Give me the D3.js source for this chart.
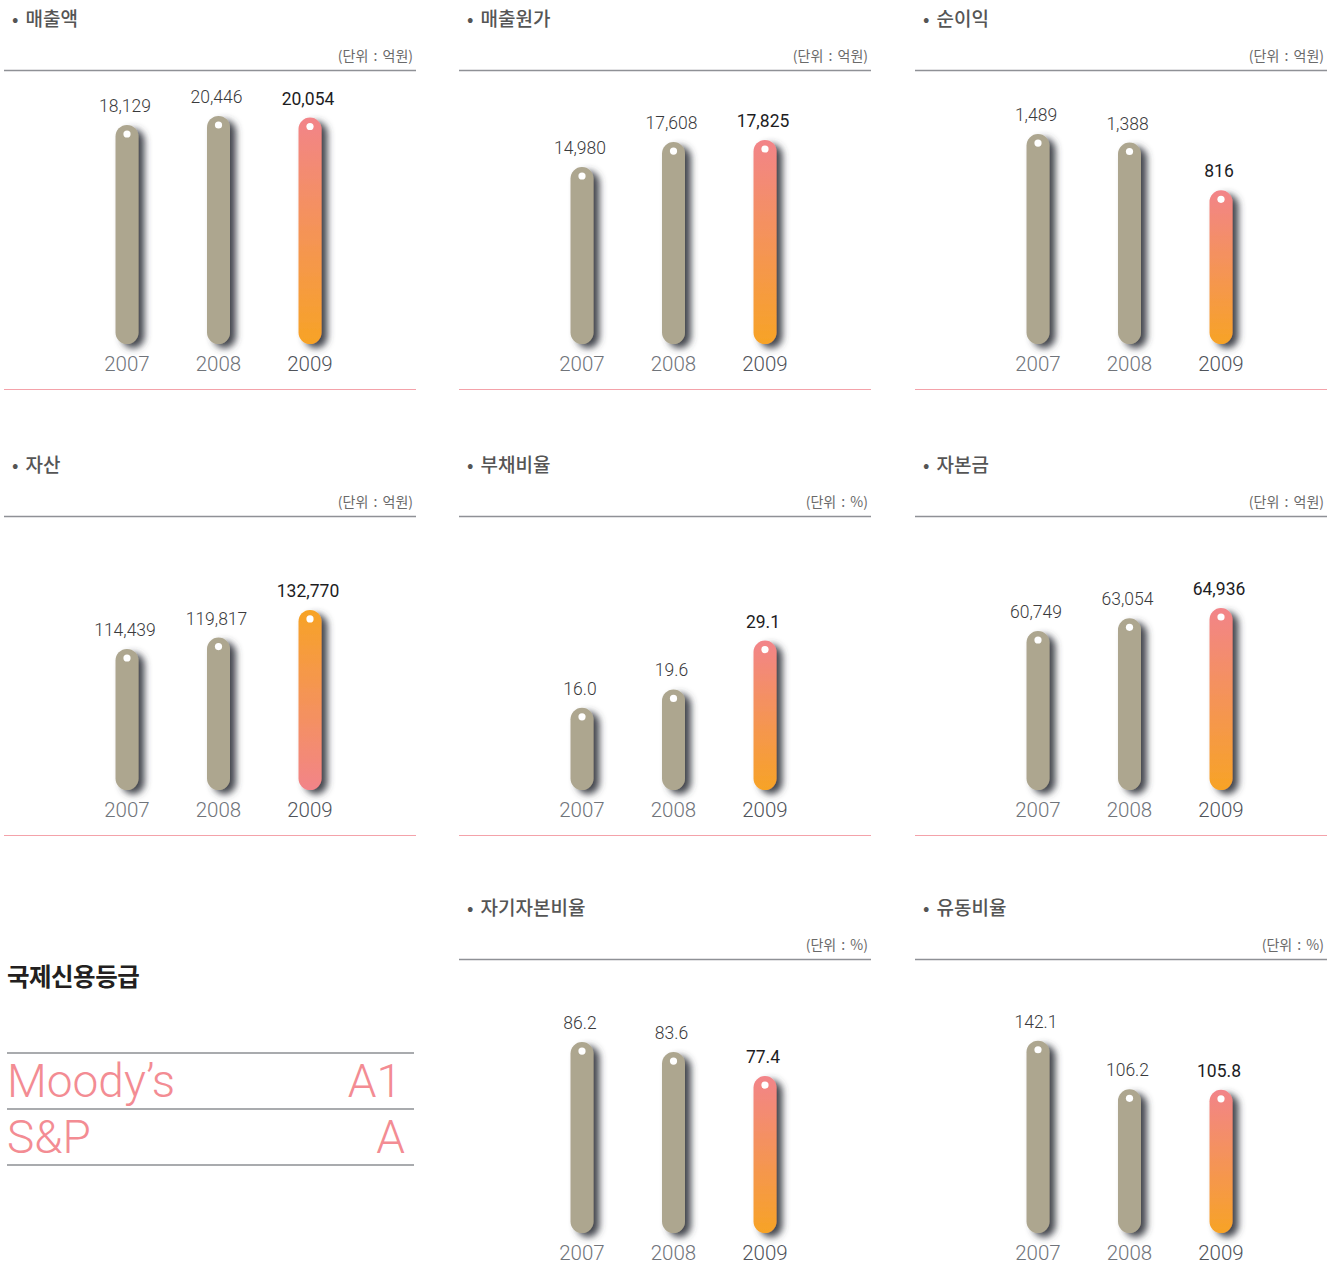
<!DOCTYPE html>
<html><head><meta charset="utf-8">
<script src="https://cdn.jsdelivr.net/npm/d3@7"></script>
<style>
html,body{margin:0;padding:0;background:#fff;}
svg{display:block;}
</style></head>
<body>
<svg id="chart" width="1339" height="1275"></svg>
<script>
// ---- data ----
const years = ["2007", "2008", "2009"];
const titles = ["매출액", "매출원가", "순이익", "자산", "부채비율", "자본금", "자기자본비율", "유동비율"];
const units = ["억원", "억원", "억원", "억원", "%", "억원", "%", "%"];
const salesValues = [18129, 20446, 20054];
const costValues = [14980, 17608, 17825];
const netIncomeValues = [1489, 1388, 816];
const assetValues = [114439, 119817, 132770];
const debtRatioValues = [16.0, 19.6, 29.1];
const capitalValues = [60749, 63054, 64936];
const equityRatioValues = [86.2, 83.6, 77.4];
const currentRatioValues = [142.1, 106.2, 105.8];
const seriesValues = [salesValues, costValues, netIncomeValues, assetValues,
  debtRatioValues, capitalValues, equityRatioValues, currentRatioValues];
const valueFormats = [",", ",", ",", ",", ".1f", ",", ".1f", ".1f"];
// value domain that maps onto the full bar-height range of each panel
const scaleDomains = [[-38260, 20960], [-3650, 20560], [-1021, 1729], [48170, 156250],
  [0, 44.8], [31800, 73680], [36.8, 96.3], [0, 170]];
const ratingAgencies = ["Moody’s", "S&P"];
const ratingGrades = ["A1", "A"];
const ratingTitle = "국제신용등급";

// ---- layout / style ----
const colX = [4, 459, 915];
const rowY = [0, 446, 889];
const panelW = 412;
const barBottom = 344, barMaxH = 230, barW = 23;
const flipGradient = [false, false, false, true, false, false, false, false];
const svg = d3.select("#chart");
const defs = svg.append("defs");

const sh = defs.append("filter").attr("id", "shadow")
  .attr("x", "-100%").attr("y", "-20%").attr("width", "300%").attr("height", "140%");
sh.append("feDropShadow").attr("dx", 6).attr("dy", 4).attr("stdDeviation", 3.8)
  .attr("flood-color", "#3a3d45").attr("flood-opacity", 0.95);

function grad(id, top, bottom) {
  const g = defs.append("linearGradient").attr("id", id)
    .attr("x1", 0).attr("y1", 0).attr("x2", 0).attr("y2", 1);
  g.append("stop").attr("offset", "0%").attr("stop-color", top);
  g.append("stop").attr("offset", "100%").attr("stop-color", bottom);
}
grad("gPink", "#f28489", "#f7a326");
grad("gOrange", "#f7a326", "#f28489");

const x = d3.scalePoint().domain(years).range([123, 306]);

titles.forEach((t, i) => {
  const pi = i < 6 ? i : i + 1; // panel slot (slot 6 = rating table)
  const cc = pi % 3, rr = Math.floor(pi / 3);
  const g = svg.append("g").attr("transform", `translate(${colX[cc]},${rowY[rr]})`);
  const y = d3.scaleLinear().domain(scaleDomains[i]).range([barBottom, barBottom - barMaxH]);
  const fmt = d3.format(valueFormats[i]);
  const vals = seriesValues[i];

  g.append("text").attr("x", 8).attr("y", 26).text("•")
    .attr("font-family", "Noto Sans CJK KR").attr("font-size", 19).attr("fill", "#555");
  g.append("text").attr("x", 21.5).attr("y", 26).text(t)
    .attr("font-family", "Noto Sans CJK KR").attr("font-weight", 500)
    .attr("font-size", 19).attr("fill", "#555");
  g.append("text").attr("x", panelW - 3).attr("y", 61).attr("text-anchor", "end")
    .text(`(단위 : ${units[i]})`)
    .attr("font-family", "Noto Sans CJK KR").attr("font-size", 14).attr("fill", "#6a6a6a")
    .attr("word-spacing", 2);
  g.append("line").attr("x1", 0).attr("x2", panelW).attr("y1", 70.5).attr("y2", 70.5)
    .attr("stroke", "#8f9196").attr("stroke-width", 1.3);
  g.append("line").attr("x1", 0).attr("x2", panelW).attr("y1", 389.5).attr("y2", 389.5)
    .attr("stroke", "#f4a2aa").attr("stroke-width", 1);

  const data = years.map((yr, k) => ({ yr, v: vals[k], k }));
  g.selectAll("rect.bar").data(data).join("rect").attr("class", "bar")
    .attr("x", d => x(d.yr) - barW / 2).attr("width", barW)
    .attr("y", d => y(d.v)).attr("height", d => barBottom - y(d.v))
    .attr("rx", barW / 2).attr("ry", barW / 2)
    .attr("fill", d => d.k === 2 ? (flipGradient[i] ? "url(#gOrange)" : "url(#gPink)") : "#ada68f")
    .attr("filter", "url(#shadow)");
  g.selectAll("circle.dot").data(data).join("circle").attr("class", "dot")
    .attr("cx", d => x(d.yr)).attr("cy", d => y(d.v) + 9).attr("r", 3.6).attr("fill", "#fff");
  g.selectAll("text.val").data(data).join("text").attr("class", "val")
    .attr("x", d => x(d.yr) - 2).attr("y", d => y(d.v) - 13).attr("text-anchor", "middle")
    .text(d => fmt(d.v))
    .attr("font-family", "Roboto").attr("font-weight", d => d.k === 2 ? 400 : 300)
    .attr("font-size", 17.5).attr("fill", d => d.k === 2 ? "#1d1d1f" : "#3a3a3c");
  g.selectAll("text.yr").data(data).join("text").attr("class", "yr")
    .attr("x", d => x(d.yr)).attr("y", 371).attr("text-anchor", "middle")
    .text(d => d.yr)
    .attr("font-family", "Roboto").attr("font-weight", 300)
    .attr("font-size", 20.5).attr("fill", d => d.k === 2 ? "#4f535a" : "#70747a");
});

// rating table
const rg = svg.append("g").attr("transform", `translate(${colX[0]},${rowY[2]})`);
rg.append("text").attr("x", 3).attr("y", 97).text(ratingTitle)
  .attr("font-family", "Noto Sans CJK KR").attr("font-weight", 700)
  .attr("font-size", 24.5).attr("fill", "#231f20").attr("letter-spacing", -0.5);
const rowLines = [164, 220, 276];
rowLines.forEach(ly => rg.append("line").attr("x1", 3).attr("x2", 410)
  .attr("y1", ly).attr("y2", ly).attr("stroke", "#a9abae").attr("stroke-width", 2));
ratingAgencies.forEach((a, k) => {
  rg.append("text").attr("x", 3).attr("y", 208 + k * 56).text(a)
    .attr("font-family", "Roboto").attr("font-weight", 300)
    .attr("font-size", 46).attr("fill", "#f38c93");
  rg.append("text").attr("x", k === 0 ? 398 : 401).attr("y", 208 + k * 56)
    .attr("text-anchor", "end").text(ratingGrades[k])
    .attr("font-family", "Roboto").attr("font-weight", 300)
    .attr("font-size", 46).attr("fill", "#f38c93");
});
</script>
</body></html>
